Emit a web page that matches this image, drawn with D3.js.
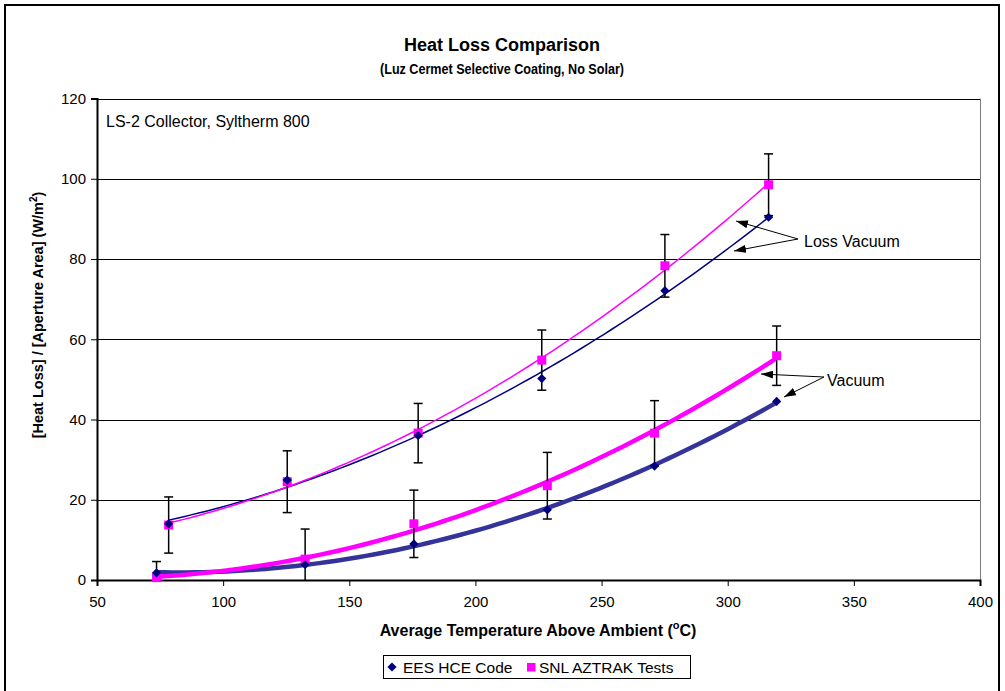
<!DOCTYPE html>
<html>
<head>
<meta charset="utf-8">
<script src="https://cdn.jsdelivr.net/npm/d3@7"></script>
<style>
  html, body { margin: 0; padding: 0; background: #fff; }
  svg { display: block; font-family: "Liberation Sans", Arial, sans-serif; }
</style>
</head>
<body>
<svg id="chart" width="1005" height="691"></svg>
<script>
// ---- data ----
const upperX   = [78.4, 125.4, 177.3, 226.3, 275.1, 316.2];   // "Loss Vacuum" case, temperature above ambient (°C)
const upperEES = [14.0, 24.9, 36.0, 50.2, 72.1, 90.4];        // EES HCE Code (W/m²)
const upperSNL = [13.7, 24.5, 36.6, 54.8, 78.3, 98.5];        // SNL AZTRAK Tests (W/m²)
const upperErr = [7.0, 7.7, 7.4, 7.5, 7.8, 7.7];              // error bar half-width on SNL tests

const lowerX   = [73.6, 132.5, 175.6, 228.5, 271.0, 319.4];   // "Vacuum" case
const lowerEES = [1.8, 3.8, 9.0, 17.5, 28.4, 44.5];
const lowerSNL = [0.6, 5.2, 14.0, 23.5, 36.6, 55.9];
const lowerErr = [4.0, 7.5, 8.4, 8.3, 8.1, 7.4];

const xTicks = [50, 100, 150, 200, 250, 300, 350, 400];
const yTicks = [0, 20, 40, 60, 80, 100, 120];

const titleText = "Heat Loss Comparison";
const subtitleText = "(Luz Cermet Selective Coating, No Solar)";
const seriesNames = ["EES HCE Code", "SNL AZTRAK Tests"];
const noteText = "LS-2 Collector, Syltherm 800";
const labelLoss = "Loss Vacuum";
const labelVac = "Vacuum";

// ---- layout ----
const plot = { left: 97, right: 980, top: 98.5, bottom: 580 };
const navy = "#000080", mag = "#FF00FF", thickBlue = "#333399";

const svg = d3.select("#chart");
const x = d3.scaleLinear().domain([50, 400]).range([plot.left, plot.right]);
const y = d3.scaleLinear().domain([0, 120]).range([plot.bottom, plot.top]);

// outer frame
svg.append("rect").attr("x", 5).attr("y", 5).attr("width", 994).attr("height", 700)
  .attr("fill", "none").attr("stroke", "#000").attr("stroke-width", 2);

// arrow marker
const defs = svg.append("defs");
defs.append("marker").attr("id", "arr").attr("viewBox", "0 0 12 8")
  .attr("refX", 12).attr("refY", 4).attr("markerWidth", 12).attr("markerHeight", 8)
  .attr("markerUnits", "userSpaceOnUse").attr("orient", "auto")
  .append("path").attr("d", "M0,0 L12,4 L0,8 Z").attr("fill", "#000");

// gridlines
svg.append("g").selectAll("line").data(yTicks.filter(d => d > 0)).join("line")
  .attr("x1", plot.left).attr("x2", plot.right)
  .attr("y1", d => Math.round(y(d)) + 0.5).attr("y2", d => Math.round(y(d)) + 0.5)
  .attr("stroke", "#000").attr("stroke-width", 1);

// right border of plot area
svg.append("line").attr("x1", plot.right + 0.5).attr("x2", plot.right + 0.5)
  .attr("y1", plot.top).attr("y2", plot.bottom).attr("stroke", "#808080").attr("stroke-width", 1);

// axes
const yAxis = d3.axisLeft(y).tickValues(yTicks).tickSize(6).tickPadding(5).tickFormat(d3.format("d"));
const gy = svg.append("g").attr("transform", `translate(${plot.left},0)`).call(yAxis);
const xAxis = d3.axisBottom(x).tickValues(xTicks).tickSize(6).tickPadding(13).tickFormat(d3.format("d"));
const gx = svg.append("g").attr("transform", `translate(0,${plot.bottom})`).call(xAxis);
[gx, gy].forEach(g => {
  g.select(".domain").attr("stroke", "#000").attr("stroke-width", 2);
  g.selectAll(".tick line").attr("stroke", "#000").attr("stroke-width", 1);
  g.selectAll(".tick text").attr("font-size", 15).attr("fill", "#000")
    .attr("font-family", "Liberation Sans, Arial, sans-serif");
});
gx.selectAll(".tick text").attr("dy", "0.5em");

// polynomial (order 2) least-squares trendline like the spreadsheet one
function quadFit(xs, ys) {
  let n = xs.length, s = [0,0,0,0,0], t = [0,0,0];
  for (let i = 0; i < n; i++) {
    const xi = xs[i], yi = ys[i];
    for (let k = 0; k <= 4; k++) s[k] += Math.pow(xi, k);
    for (let k = 0; k <= 2; k++) t[k] += yi * Math.pow(xi, k);
  }
  const A = [[s[0], s[1], s[2], t[0]], [s[1], s[2], s[3], t[1]], [s[2], s[3], s[4], t[2]]];
  for (let c = 0; c < 3; c++) {
    for (let r = c + 1; r < 3; r++) {
      const f = A[r][c] / A[c][c];
      for (let k = c; k < 4; k++) A[r][k] -= f * A[c][k];
    }
  }
  const b = [0,0,0];
  for (let r = 2; r >= 0; r--) {
    let v = A[r][3];
    for (let k = r + 1; k < 3; k++) v -= A[r][k] * b[k];
    b[r] = v / A[r][r];
  }
  return xv => b[0] + b[1] * xv + b[2] * xv * xv;
}
function trend(xs, ys) {
  const f = quadFit(xs, ys);
  const x0 = d3.min(xs), x1 = d3.max(xs);
  return d3.range(0, 81).map(i => { const xv = x0 + (x1 - x0) * i / 80; return [xv, f(xv)]; });
}
const line = d3.line().x(d => x(d[0])).y(d => y(d[1])).curve(d3.curveLinear);

const gLines = svg.append("g").attr("fill", "none").attr("stroke-linejoin", "round");
gLines.append("path").attr("d", line(trend(lowerX, lowerEES))).attr("stroke", thickBlue).attr("stroke-width", 4.5);
gLines.append("path").attr("d", line(trend(lowerX, lowerSNL))).attr("stroke", mag).attr("stroke-width", 4.5);
gLines.append("path").attr("d", line(trend(upperX, upperEES))).attr("stroke", navy).attr("stroke-width", 1.5);
gLines.append("path").attr("d", line(trend(upperX, upperSNL))).attr("stroke", mag).attr("stroke-width", 1.5);

// error bars on SNL tests
function errorBars(xs, ys, es) {
  const g = svg.append("g").attr("stroke", "#000").attr("stroke-width", 1.5);
  const data = xs.map((xv, i) => ({ x: xv, y: ys[i], e: es[i] }));
  g.selectAll("line.v").data(data).join("line").attr("class", "v")
    .attr("x1", d => x(d.x)).attr("x2", d => x(d.x))
    .attr("y1", d => y(d.y + d.e)).attr("y2", d => y(Math.max(d.y - d.e, 0)));
  g.selectAll("line.t").data(data).join("line").attr("class", "t")
    .attr("x1", d => x(d.x) - 4.5).attr("x2", d => x(d.x) + 4.5)
    .attr("y1", d => y(d.y + d.e)).attr("y2", d => y(d.y + d.e));
  g.selectAll("line.b").data(data.filter(d => d.y - d.e >= 0)).join("line").attr("class", "b")
    .attr("x1", d => x(d.x) - 4.5).attr("x2", d => x(d.x) + 4.5)
    .attr("y1", d => y(d.y - d.e)).attr("y2", d => y(d.y - d.e));
}
errorBars(upperX, upperSNL, upperErr);
errorBars(lowerX, lowerSNL, lowerErr);

// markers
const diamond = "M0,-4.6L4.6,0L0,4.6L-4.6,0Z";
function squares(xs, ys) {
  svg.append("g").selectAll("rect").data(xs.map((xv, i) => [xv, ys[i]])).join("rect")
    .attr("x", d => x(d[0]) - 4.5).attr("y", d => y(d[1]) - 4.5)
    .attr("width", 9).attr("height", 9).attr("fill", mag);
}
function diamonds(xs, ys) {
  svg.append("g").selectAll("path").data(xs.map((xv, i) => [xv, ys[i]])).join("path")
    .attr("d", diamond).attr("transform", d => `translate(${x(d[0])},${y(d[1])})`).attr("fill", navy);
}
squares(upperX, upperSNL);
squares(lowerX, lowerSNL);
diamonds(upperX, upperEES);
diamonds(lowerX, lowerEES);

// titles
svg.append("text").attr("x", 502).attr("y", 51).attr("text-anchor", "middle")
  .attr("font-size", 18).attr("font-weight", "bold").text(titleText);
svg.append("text").attr("transform", "translate(502,74) scale(0.9,1)").attr("text-anchor", "middle")
  .attr("font-size", 14).attr("font-weight", "bold").text(subtitleText);

// axis titles
const xt = svg.append("text").attr("x", 538).attr("y", 636).attr("text-anchor", "middle")
  .attr("font-size", 16).attr("font-weight", "bold");
xt.append("tspan").text("Average Temperature Above Ambient (");
xt.append("tspan").attr("dy", -7).attr("font-size", 11).text("o");
xt.append("tspan").attr("dy", 7).text("C)");

const yt = svg.append("text").attr("transform", "translate(43,315) rotate(-90)").attr("text-anchor", "middle")
  .attr("font-size", 14.5).attr("font-weight", "bold");
yt.append("tspan").text("[Heat Loss] / [Aperture Area] (W/m");
yt.append("tspan").attr("dy", -6).attr("font-size", 10).text("2");
yt.append("tspan").attr("dy", 6).text(")");

// notes / annotations
svg.append("text").attr("x", 106).attr("y", 127).attr("font-size", 16).text(noteText);
svg.append("text").attr("x", 804).attr("y", 247).attr("font-size", 16).text(labelLoss);
svg.append("text").attr("x", 827).attr("y", 386).attr("font-size", 16).text(labelVac);
const arrows = [
  [798, 239, 736, 221], [798, 239, 734, 251],
  [824, 377, 761, 374], [824, 377, 784, 397]
];
svg.append("g").selectAll("line").data(arrows).join("line")
  .attr("x1", d => d[0]).attr("y1", d => d[1]).attr("x2", d => d[2]).attr("y2", d => d[3])
  .attr("stroke", "#000").attr("stroke-width", 1).attr("marker-end", "url(#arr)");

// legend
const lg = svg.append("g");
lg.append("rect").attr("x", 383.5).attr("y", 655.5).attr("width", 307).attr("height", 23)
  .attr("fill", "#fff").attr("stroke", "#000").attr("stroke-width", 1);
lg.append("path").attr("d", diamond).attr("transform", "translate(392,667)").attr("fill", navy);
lg.append("text").attr("x", 403).attr("y", 672.5).attr("font-size", 15.5).text(seriesNames[0]);
lg.append("rect").attr("x", 527).attr("y", 663).attr("width", 8.5).attr("height", 8.5).attr("fill", mag);
lg.append("text").attr("x", 539).attr("y", 672.5).attr("font-size", 15.5).text(seriesNames[1]);
</script>
</body>
</html>
